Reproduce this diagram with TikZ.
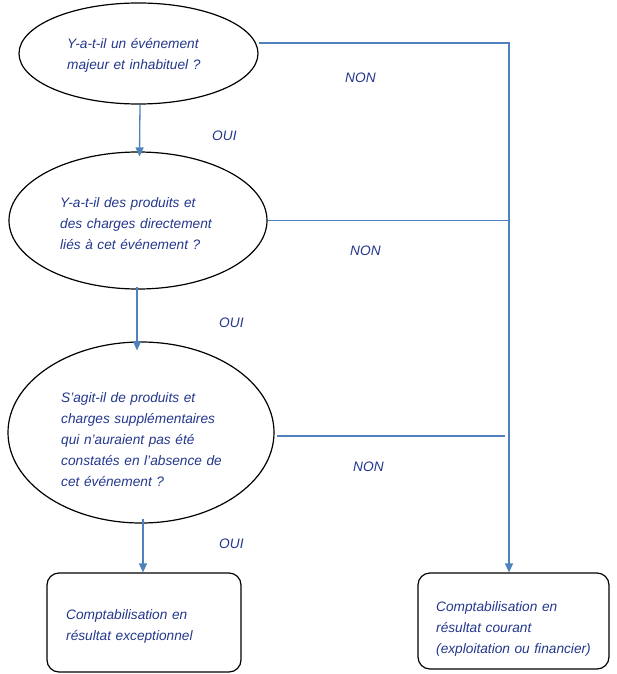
\documentclass[tikz,border=0pt]{standalone}
\usepackage{fontspec}
\setmainfont{Liberation Sans}
\usetikzlibrary{shapes.geometric,arrows.meta}
\definecolor{txtblue}{RGB}{35,55,140}
\definecolor{lineblue}{RGB}{79,129,189}
\begin{document}
\begin{tikzpicture}[x=1pt,y=-1pt,
  ell/.style={draw=black,line width=1.2pt,ellipse,inner sep=0pt},
  resbox/.style={draw=black,line width=1.2pt,rectangle,rounded corners=12pt,inner sep=0pt},
  txt/.style={anchor=base west,inner sep=0pt,align=left,text width=220pt,text=txtblue,
    font=\fontsize{13.7}{21}\selectfont\itshape},
  lbl/.style={anchor=base west,inner sep=0pt,text=txtblue,font=\fontsize{13.7}{21}\selectfont\itshape},
  conn/.style={draw=lineblue,line width=1.3pt},
  arr/.style={conn,-{Triangle[width=8pt,length=9pt]}}]
\useasboundingbox (0,0) rectangle (616,674);
% decision nodes
\node[ell,minimum width=239pt,minimum height=101pt] (q1) at (138.5,53.5) {};
\node[txt] (q1t) at (67,49) {Y-a-t-il un événement\\majeur et inhabituel ?};
\node[ell,minimum width=258pt,minimum height=137pt] (q2) at (138,220.5) {};
\node[txt] (q2t) at (60,207) {Y-a-t-il des produits et\\des charges directement\\liés à cet événement ?};
\node[ell,minimum width=266pt,minimum height=181pt] (q3) at (141,432.5) {};
\node[txt] (q3t) at (61,402) {S'agit-il de produits et\\charges supplémentaires\\qui n'auraient pas été\\constatés en l'absence de\\cet événement ?};
% result nodes
\node[resbox,minimum width=194pt,minimum height=99pt] (r1) at (144,622.5) {};
\node[txt] (r1t) at (66,619) {Comptabilisation en\\résultat exceptionnel};
\node[resbox,minimum width=191pt,minimum height=96pt] (r2) at (513.5,621) {};
\node[txt] (r2t) at (436,611) {Comptabilisation en\\résultat courant\\(exploitation ou financier)};
% labels
\node[lbl] (oui1) at (212,140.5) {OUI};
\node[lbl] (oui2) at (219,327) {OUI};
\node[lbl] (oui3) at (219,548.5) {OUI};
\node[lbl] (non1) at (345,83) {NON};
\node[lbl] (non2) at (350,255) {NON};
\node[lbl] (non3) at (353,471) {NON};
% connectors
\coordinate (c1) at (509,43);
\coordinate (n3a) at (277,436);
\coordinate (n3b) at (505,436);
\draw[arr] ([xshift=1.5pt]q1.south) -- ([xshift=1.5pt,yshift=-5pt]q2.north);
\draw[arr] ([xshift=-1pt,yshift=3pt]q2.south) -- ([xshift=-1pt,yshift=-9pt]q3.north -| q2.south);
\draw[arr] ([xshift=2pt,yshift=5pt]q3.south) -- ([xshift=-1pt]r1.north);
\draw[arr] (q1.east |- c1) -- (c1) -- (c1 |- r2.north);
\draw[conn] (q2.east) -- (q2.east -| c1);
\draw[conn] (n3a) -- (n3b);
\end{tikzpicture}
\end{document}
